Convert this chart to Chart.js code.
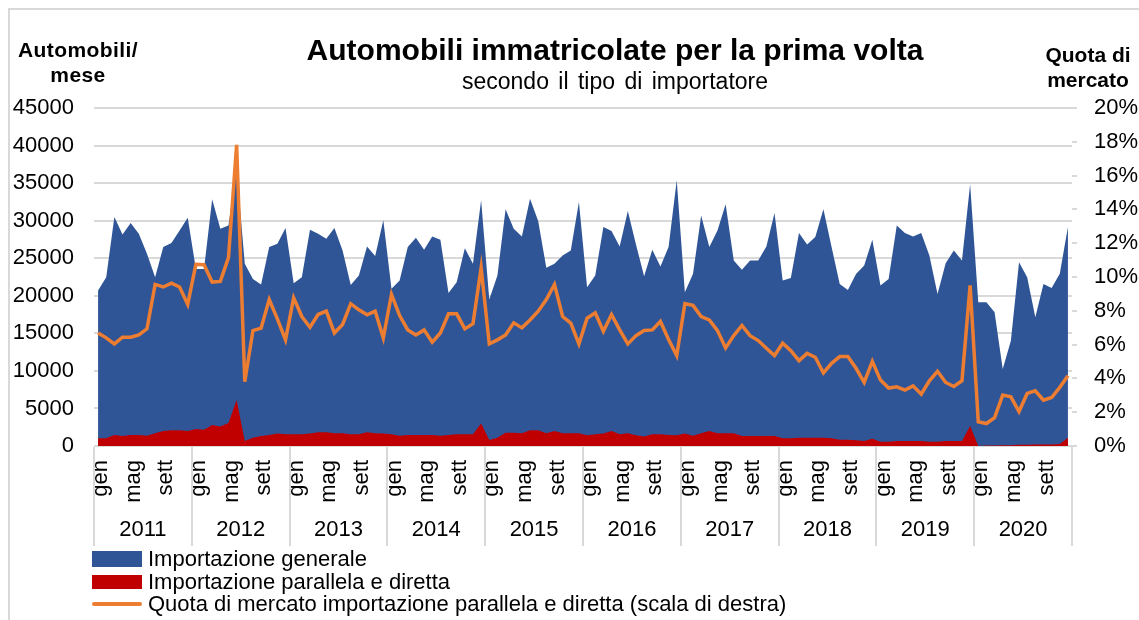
<!DOCTYPE html>
<html lang="it">
<head>
<meta charset="utf-8">
<title>Automobili immatricolate per la prima volta</title>
<script src="https://cdn.jsdelivr.net/npm/chart.js@4.4.1/dist/chart.umd.min.js"></script>
<style>
  html, body { margin: 0; padding: 0; background: #fff; overflow: hidden; }
  body { font-family: "Liberation Sans", Arial, sans-serif; color: #000; }
  #wrap { position: relative; width: 1139px; height: 620px; }
  #frame { position: absolute; left: 8px; top: 8px; width: 1160px; height: 640px; border: 2px solid #d9d9d9; box-sizing: border-box; }
  #chart { position: absolute; left: 0; top: 0; }
  .txt { position: absolute; white-space: nowrap; line-height: 1; }
  #title { left: 0; width: 1230px; top: 35px; text-align: center; font-size: 30px; font-weight: bold; }
  #subtitle { left: 0; width: 1230px; top: 70px; text-align: center; font-size: 23px; word-spacing: 3px; }
  #ylab { left: 8px; width: 140px; top: 37px; text-align: center; font-size: 21px; font-weight: bold; line-height: 25px; letter-spacing: 0.4px; }
  #y1lab { left: 1030px; width: 116px; top: 42px; text-align: center; font-size: 21px; font-weight: bold; line-height: 25px; }
  #legend { position: absolute; left: 92px; top: 548px; font-size: 22px; }
  .item { display: flex; align-items: center; height: 22.5px; }
  .sw { width: 50px; margin-right: 6px; }
</style>
</head>
<body>
<div id="wrap">
  <div id="frame"></div>
  <canvas id="chart" width="1139" height="620"></canvas>
  <div class="txt" id="title">Automobili immatricolate per la prima volta</div>
  <div class="txt" id="subtitle">secondo il tipo di importatore</div>
  <div class="txt" id="ylab">Automobili/<br>mese</div>
  <div class="txt" id="y1lab">Quota di<br>mercato</div>
  <div id="legend">
    <div class="item"><span class="sw" style="height:16px;background:#2F5597"></span>Importazione generale</div>
    <div class="item"><span class="sw" style="height:14px;background:#C00000"></span>Importazione parallela e diretta</div>
    <div class="item"><span class="sw" style="height:4px;background:#ED7D31;border-radius:2px"></span>Quota di mercato importazione parallela e diretta (scala di destra)</div>
  </div>
</div>
<script>
// Data, monthly Jan 2011 - Dec 2020
const years = ['2011', '2012', '2013', '2014', '2015', '2016', '2017', '2018', '2019', '2020'];
const monthLabels = ['gen', '', '', '', 'mag', '', '', '', 'sett', '', '', ''];

const generale = [
  20690, 22470, 30480, 28170, 29680, 28260, 25590, 22470, 26480, 27010, 28700, 30390,
  23580, 23580, 32840, 28930, 29370, 37000, 24250, 22250, 21490, 26480, 26920, 29010,
  21670, 22470, 28790, 28260, 27590, 29010, 26030, 21450, 22700, 26570, 25280, 30040,
  20920, 22030, 26480, 27720, 26120, 27900, 27460, 20380, 21810, 26340, 24250, 32710,
  19490, 22700, 31510, 28930, 27900, 32930, 29950, 23720, 24250, 25370, 26030, 32490,
  21140, 22700, 29150, 28610, 26570, 31280, 26830, 22610, 26120, 23900, 26500, 35380,
  20470, 22920, 30700, 26480, 28700, 32170, 24700, 23450, 24700, 24700, 26570, 31020,
  22030, 22380, 28350, 26830, 27810, 31510, 26480, 21580, 20780, 22900, 24030, 27460,
  21360, 22250, 29370, 28350, 27900, 28350, 25370, 20250, 24340, 26030, 24700, 34840,
  19140, 19140, 17800, 10240, 14020, 24480, 22470, 17130, 21580, 21050, 22920, 29150
];

const parallela = [
  1020, 1020, 1470, 1335, 1470, 1470, 1380, 1690, 2000, 2090, 2090, 2000,
  2270, 2180, 2800, 2580, 3070, 6140, 670, 1110, 1335, 1470, 1650, 1560,
  1560, 1560, 1650, 1820, 1820, 1690, 1690, 1560, 1560, 1820, 1690, 1650,
  1560, 1380, 1470, 1470, 1470, 1470, 1380, 1470, 1560, 1560, 1560, 2980,
  800, 1110, 1780, 1780, 1690, 2090, 2090, 1690, 2000, 1690, 1690, 1690,
  1420, 1560, 1650, 2000, 1560, 1690, 1420, 1250, 1560, 1560, 1470, 1420,
  1650, 1380, 1690, 2000, 1690, 1690, 1690, 1335, 1335, 1335, 1335, 1335,
  1020, 1020, 1110, 1110, 1110, 1110, 1020, 845, 845, 750, 670, 980,
  580, 580, 670, 670, 670, 670, 580, 580, 670, 670, 670, 2670,
  0, 50, 50, 100, 100, 150, 150, 200, 200, 200, 250, 1100
];

// percent, right scale
const quota = [
  6.69, 6.40, 6.04, 6.44, 6.44, 6.57, 6.93, 9.56, 9.41, 9.64, 9.41, 8.38,
  10.75, 10.73, 9.70, 9.74, 11.15, 17.82, 3.80, 6.83, 6.97, 8.67, 7.52, 6.28,
  8.77, 7.66, 7.03, 7.78, 7.98, 6.69, 7.19, 8.42, 8.06, 7.76, 7.98, 6.40,
  8.97, 7.72, 6.87, 6.57, 6.87, 6.14, 6.69, 7.82, 7.82, 6.93, 7.23, 10.55,
  6.04, 6.28, 6.57, 7.29, 6.99, 7.46, 7.98, 8.67, 9.56, 7.66, 7.27, 6.04,
  7.56, 7.88, 6.79, 7.78, 6.87, 6.04, 6.53, 6.83, 6.87, 7.37, 6.30, 5.35,
  8.42, 8.32, 7.66, 7.46, 6.83, 5.80, 6.53, 7.13, 6.53, 6.24, 5.78, 5.35,
  6.08, 5.64, 5.05, 5.48, 5.25, 4.32, 4.89, 5.29, 5.29, 4.60, 3.76, 5.01,
  3.90, 3.43, 3.50, 3.31, 3.56, 3.07, 3.86, 4.42, 3.76, 3.52, 3.86, 9.50,
  1.43, 1.33, 1.68, 3.01, 2.91, 2.04, 3.11, 3.27, 2.71, 2.87, 3.47, 4.16
];

const labels = [];
years.forEach(y => monthLabels.forEach(m => labels.push(m)));

const tickFont = { family: '"Liberation Sans", Arial, sans-serif', size: 22 };
const gridGray = '#d9d9d9';

// vertical separators between the years, under the plot
const yearLines = {
  id: 'yearLines',
  afterDraw(chart) {
    const { ctx, chartArea } = chart;
    const x2 = chart.scales.x2;
    const w = (chartArea.right - chartArea.left) / years.length;
    ctx.save();
    ctx.strokeStyle = gridGray;
    ctx.lineWidth = 2;
    for (let k = 0; k <= years.length; k++) {
      const x = Math.round(chartArea.left + k * w);
      ctx.beginPath();
      ctx.moveTo(x, chartArea.bottom + 1);
      ctx.lineTo(x, x2.bottom);
      ctx.stroke();
    }
    ctx.restore();
  }
};

new Chart(document.getElementById('chart'), {
  type: 'line',
  data: {
    labels,
    datasets: [
      { label: 'Quota di mercato importazione parallela e diretta (scala di destra)', data: quota, yAxisID: 'y1',
        borderColor: '#ED7D31', borderWidth: 3.5, pointRadius: 0, fill: false, tension: 0 },
      { label: 'Importazione parallela e diretta', data: parallela, yAxisID: 'y',
        borderWidth: 0, borderColor: '#C00000', backgroundColor: '#C00000', pointRadius: 0, fill: 'origin', tension: 0 },
      { label: 'Importazione generale', data: generale, yAxisID: 'y',
        borderWidth: 0, borderColor: '#2F5597', backgroundColor: '#2F5597', pointRadius: 0, fill: 'origin', tension: 0 }
    ]
  },
  options: {
    responsive: false,
    animation: false,
    layout: { padding: { top: 108, left: 0, right: 0, bottom: 74 } },
    plugins: { legend: { display: false }, tooltip: { enabled: false } },
    scales: {
      x: {
        offset: true,
        grid: { display: false, drawTicks: false },
        border: { display: false },
        ticks: { autoSkip: false, minRotation: 90, maxRotation: 90, padding: 14, labelOffset: 3, color: '#000', font: tickFont },
        afterFit: s => { s.height = 58; }
      },
      x2: {
        type: 'category',
        labels: years,
        position: 'bottom',
        offset: true,
        grid: { display: false, drawTicks: false },
        border: { display: false },
        ticks: { padding: 13, color: '#000', font: tickFont },
        afterFit: s => { s.height = 42; }
      },
      y: {
        position: 'left',
        min: 0, max: 45000,
        ticks: { stepSize: 5000, padding: 20, color: '#000', font: tickFont, callback: v => String(v) },
        grid: { color: gridGray, lineWidth: 2, drawTicks: false },
        border: { display: false },
        afterFit: s => { s.width = 94; }
      },
      y1: {
        position: 'right',
        min: 0, max: 20,
        ticks: { stepSize: 2, padding: 17, color: '#000', font: tickFont, callback: v => v + '%' },
        grid: { drawOnChartArea: false, color: gridGray, lineWidth: 2, tickLength: 5 },
        border: { display: false },
        afterFit: s => { s.width = 1139 - 1072; }
      }
    }
  },
  plugins: [yearLines]
});
</script>
</body>
</html>
